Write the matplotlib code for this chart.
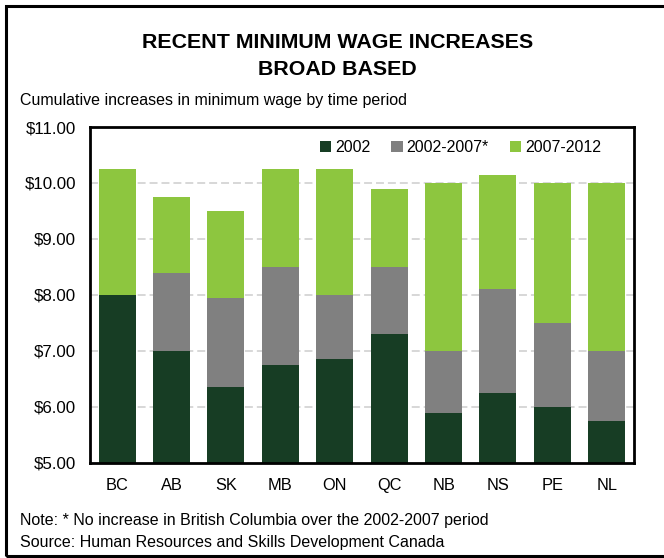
import matplotlib.pyplot as plt
import numpy as np
from matplotlib.patches import Rectangle

plt.rcParams["font.family"] = ["Liberation Sans", "DejaVu Sans"]

PROVINCES = ["BC", "AB", "SK", "MB", "ON", "QC", "NB", "NS", "PE", "NL"]
# minimum wage level at the end of each period ($/hour)
WAGE_2002 = [8.00, 7.00, 6.35, 6.75, 6.85, 7.30, 5.90, 6.25, 6.00, 5.75]
WAGE_2007 = [8.00, 8.40, 7.95, 8.50, 8.00, 8.50, 7.00, 8.10, 7.50, 7.00]
WAGE_2012 = [10.25, 9.75, 9.50, 10.25, 10.25, 9.90, 10.00, 10.15, 10.00, 10.00]
SERIES = ["2002", "2002-2007*", "2007-2012"]
COLORS = ["#173d24", "#808080", "#8dc63f"]
Y_MIN, Y_MAX = 5.0, 11.0


def main():
    w02 = np.array(WAGE_2002)
    w07 = np.array(WAGE_2007)
    w12 = np.array(WAGE_2012)
    x = np.arange(len(PROVINCES))

    fig = plt.figure(figsize=(6.64, 5.58), dpi=100)
    ax = fig.add_axes([0.1355, 0.1703, 0.8193, 0.6021])

    width = 0.68
    ax.bar(x, w02 - Y_MIN, width, bottom=Y_MIN, color=COLORS[0], label=SERIES[0], zorder=2)
    ax.bar(x, w07 - w02, width, bottom=w02, color=COLORS[1], label=SERIES[1], zorder=2)
    ax.bar(x, w12 - w07, width, bottom=w07, color=COLORS[2], label=SERIES[2], zorder=2)

    ax.set_xlim(-0.5, len(PROVINCES) - 0.5)
    ax.set_ylim(Y_MIN, Y_MAX)
    yt = np.arange(5, 12, 1)
    ax.set_yticks(yt)
    ax.set_yticklabels([f"${v:.2f}" for v in yt], fontsize=12.2)
    ax.set_xticks(x)
    ax.set_xticklabels(PROVINCES, fontsize=11.8)
    ax.tick_params(axis="both", length=0)
    ax.tick_params(axis="y", pad=10)
    ax.tick_params(axis="x", pad=10.5)

    for v in np.arange(6, 11, 1):
        ax.axhline(v, color="#d4d4d4", linewidth=1.3, linestyle=(0, (4.4, 2.2)), zorder=1)

    for sp in ax.spines.values():
        sp.set_linewidth(2)
        sp.set_color("black")
        sp.set_zorder(3)

    ax.legend(loc="upper right", bbox_to_anchor=(0.939, 0.962), ncol=3, frameon=False,
              borderaxespad=0, borderpad=0,
              fontsize=11.5, handlelength=0.7, handleheight=0.7, handletextpad=0.25,
              columnspacing=1.3)

    # outer frame, open on the right
    fig.patches.append(Rectangle((5.5 / 664, 1 - 556 / 558), 1.0, (556 - 5.5) / 558,
                                 transform=fig.transFigure, fill=False,
                                 edgecolor="black", linewidth=2.2))

    fig.text(0.508, 1 - 42.5 / 558, "RECENT MINIMUM WAGE INCREASES", ha="center", va="center",
             fontsize=15.4, fontweight="bold")
    fig.text(0.508, 1 - 69.5 / 558, "BROAD BASED", ha="center", va="center",
             fontsize=15.4, fontweight="bold")
    fig.text(20 / 664, 1 - 100 / 558, "Cumulative increases in minimum wage by time period",
             ha="left", va="center", fontsize=11.5)
    fig.text(20 / 664, 1 - 520.5 / 558,
             "Note: * No increase in British Columbia over the 2002-2007 period",
             ha="left", va="center", fontsize=11.5)
    fig.text(20 / 664, 1 - 542 / 558, "Source: Human Resources and Skills Development Canada",
             ha="left", va="center", fontsize=11.5)

    fig.savefig("out.png", dpi=100)


if __name__ == "__main__":
    main()
